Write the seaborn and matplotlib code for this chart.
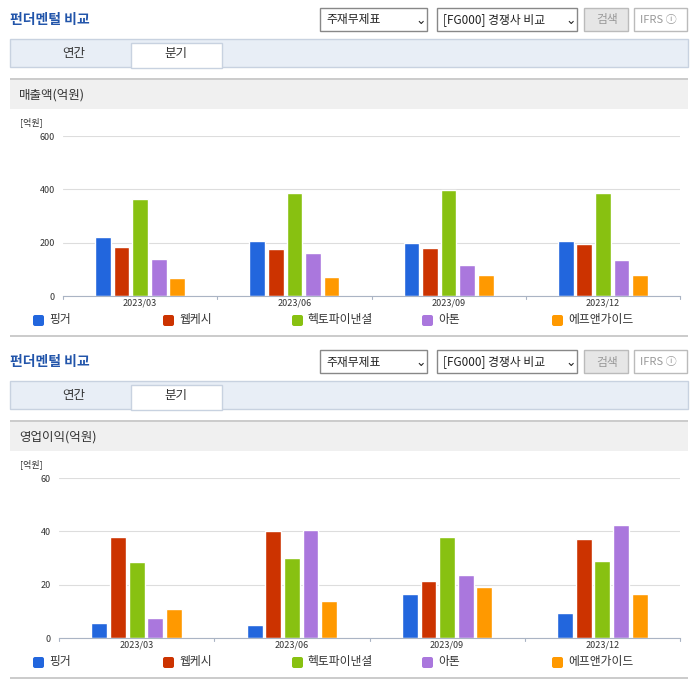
import matplotlib
matplotlib.use("Agg")
import matplotlib.pyplot as plt
import seaborn as sns
import pandas as pd
from matplotlib.patches import Rectangle, FancyBboxPatch

sns.set_style("white")
plt.rcParams['font.family'] = ['Noto Sans CJK KR', 'DejaVu Sans']

periods = ["2023/03", "2023/06", "2023/09", "2023/12"]
companies = ["핑거", "웹케시", "헥토파이낸셜", "아톤", "에프앤가이드"]
colors = ["#2266dd", "#cc3300", "#88c111", "#aa77dd", "#ff9900"]
sales = {
    "핑거": [220, 205, 198, 205],
    "웹케시": [183, 175, 180, 195],
    "헥토파이낸셜": [362, 385, 396, 385],
    "아톤": [138, 160, 115, 135],
    "에프앤가이드": [67, 70, 78, 78],
}
profit = {
    "핑거": [5.5, 5, 16.5, 9.5],
    "웹케시": [38, 40, 21.5, 37],
    "헥토파이낸셜": [28.5, 30, 38, 29],
    "아톤": [7.5, 40.5, 23.5, 42.5],
    "에프앤가이드": [11, 14, 19, 16.5],
}

W, H = 696, 684
fig = plt.figure(figsize=(W / 100, H / 100), dpi=100)

def px(x, y, w, h):
    return [x / W, 1 - (y + h) / H, w / W, h / H]

def rect(x, y, w, h, fc, ec="none", lw=1):
    fig.patches.append(Rectangle((x / W, 1 - (y + h) / H), w / W, h / H, transform=fig.transFigure,
                                 facecolor=fc, edgecolor=ec, linewidth=lw))

def text(x, y, s, **kw):
    fig.text(x / W, 1 - y / H, s, va="center", **kw)

def block(oy, title, data, ymax, ticks, plot_left):
    text(10, oy + 20, "펀더멘털 비교", fontsize=10, color="#2255aa", fontweight="bold")
    # dropdowns
    for x0, w0, lab in [(320, 107, "주재무제표"), (437, 140, "[FG000] 경쟁사 비교")]:
        rect(x0, oy + 8, w0, 23, "white", "#888888")
        text(x0 + 6, oy + 20, lab, fontsize=8.5, color="#222222")
        text(x0 + w0 - 12, oy + 20, "⌄", fontsize=9, color="#222222")
    rect(584, oy + 8, 44, 23, "#e6e6e6", "#bbbbbb")
    text(596, oy + 20, "검색", fontsize=8.5, color="#999999")
    rect(634, oy + 8, 53, 23, "white", "#bbbbbb")
    text(640, oy + 20, "IFRS ⓘ", fontsize=8, color="#999999")
    # tabs
    rect(10, oy + 39, 678, 28, "#e8eef6", "#c8d2e0")
    rect(131, oy + 43, 91, 25, "white", "#c8d2e0")
    text(74, oy + 54, "연간", fontsize=9, ha="center", color="#333333")
    text(176, oy + 54, "분기", fontsize=9, ha="center", color="#333333")
    # section header
    rect(10, oy + 78, 678, 31, "#f0f0f0")
    rect(10, oy + 78, 678, 2, "#cccccc")
    text(19, oy + 95, title, fontsize=9, color="#333333")
    rect(10, oy + 335, 678, 2, "#cccccc")

    rows = []
    for c in companies:
        for p, v in zip(periods, data[c]):
            rows.append({"period": p, "company": c, "value": v})
    df = pd.DataFrame(rows)
    ax = fig.add_axes(px(plot_left, oy + 136, 680 - plot_left, 160))
    sns.barplot(data=df, x="period", y="value", hue="company", hue_order=companies,
                palette=colors, width=0.6, gap=0.15, ax=ax, legend=False, saturation=1)
    ax.set_ylim(0, ymax)
    ax.set_yticks(ticks)
    ax.set_yticklabels([str(t) for t in ticks], fontsize=6.5, color="#333333")
    ax.tick_params(axis="x", labelsize=6.5, colors="#333333", length=0, pad=2)
    ax.tick_params(axis="y", length=0, pad=6)
    ax.set_xlabel("")
    ax.set_ylabel("")
    ax.grid(axis="y", color="#dddddd", linewidth=0.8)
    ax.set_axisbelow(True)
    for s in ["top", "right", "left"]:
        ax.spines[s].set_visible(False)
    ax.spines["bottom"].set_color("#aab4c4")
    ax.set_xlim(-0.5, 3.5)
    for xb in [-0.5, 0.5, 1.5, 2.5, 3.5]:
        ax.plot([xb, xb], [0, -ymax * 0.02], color="#aab4c4", lw=0.8, clip_on=False)
    text(20, oy + 122, "[억원]", fontsize=6.5, color="#333333")
    # legend
    for i, (c, col) in enumerate(zip(companies, colors)):
        lx = [33, 163, 292, 422, 552][i]
        fig.patches.append(FancyBboxPatch(((lx) / W, 1 - (oy + 326) / H), 11 / W, 11 / H,
                                          boxstyle="round,pad=0,rounding_size=0.003",
                                          transform=fig.transFigure, facecolor=col, edgecolor="none"))
        text(lx + 16, oy + 320, c, fontsize=8.5, color="#333333")

block(0, "매출액(억원)", sales, 600, [0, 200, 400, 600], 63)
block(342, "영업이익(억원)", profit, 60, [0, 20, 40, 60], 59)

fig.savefig("out.png", dpi=100)
